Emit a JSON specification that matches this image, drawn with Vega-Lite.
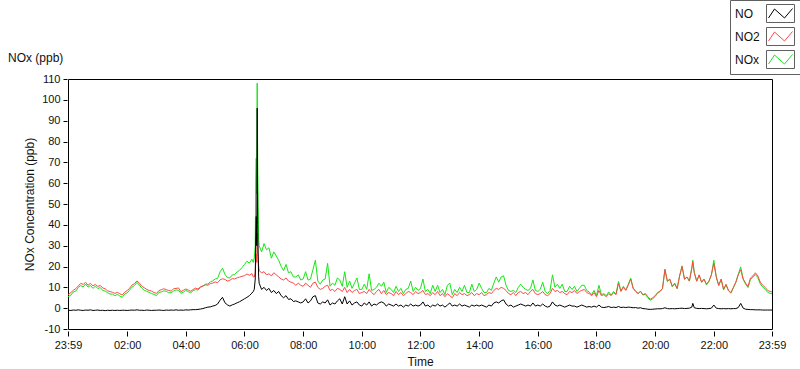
{
"$schema":"https://vega.github.io/schema/vega-lite/v6.json",
"width":704,"height":250,
"autosize":{"type":"none"},
"padding":{"left":68,"top":79,"right":28,"bottom":40},
"background":"white",
"config":{"view":{"stroke":"#000","strokeWidth":1},"font":"Liberation Sans",
 "axis":{"labelFont":"Liberation Sans","labelFontSize":11,"labelColor":"#111","labelOverlap":false,"tickColor":"#000","domain":false,"grid":false,"titleFont":"Liberation Sans","titleFontSize":12,"titleFontWeight":"normal","titleColor":"#111"},
 "axisY":{"labelPadding":3,"tickSize":4,"offset":1,"titlePadding":5,"labelOverlap":false}},
"title":{"text":"NOx (ppb)","anchor":"start","frame":"group","dx":-60,"offset":0,"baseline":"top","dy":65,"fontSize":12,"fontWeight":"normal","color":"#111","font":"Liberation Sans"},
"data":{"values":[
{"t":"2024-01-01T23:59","NO":-1.0,"NO2":6.5,"NOx":5.5},
{"t":"2024-01-02T00:05","NO":-1.1,"NO2":7.5,"NOx":6.3},
{"t":"2024-01-02T00:10","NO":-0.9,"NO2":8.6,"NOx":7.8},
{"t":"2024-01-02T00:15","NO":-1.0,"NO2":9.4,"NOx":8.2},
{"t":"2024-01-02T00:20","NO":-0.8,"NO2":10.6,"NOx":9.9},
{"t":"2024-01-02T00:25","NO":-1.0,"NO2":11.9,"NOx":10.8},
{"t":"2024-01-02T00:30","NO":-1.1,"NO2":11.4,"NOx":10.2},
{"t":"2024-01-02T00:35","NO":-0.9,"NO2":12.4,"NOx":11.6},
{"t":"2024-01-02T00:40","NO":-1.0,"NO2":11.0,"NOx":10.1},
{"t":"2024-01-02T00:45","NO":-0.8,"NO2":11.9,"NOx":10.9},
{"t":"2024-01-02T00:50","NO":-1.1,"NO2":10.7,"NOx":9.5},
{"t":"2024-01-02T00:55","NO":-1.0,"NO2":11.4,"NOx":10.6},
{"t":"2024-01-02T01:00","NO":-0.9,"NO2":10.4,"NOx":9.4},
{"t":"2024-01-02T01:05","NO":-1.1,"NO2":10.9,"NOx":9.9},
{"t":"2024-01-02T01:10","NO":-1.0,"NO2":9.7,"NOx":8.5},
{"t":"2024-01-02T01:15","NO":-1.2,"NO2":9.3,"NOx":8.2},
{"t":"2024-01-02T01:20","NO":-1.0,"NO2":8.3,"NOx":7.4},
{"t":"2024-01-02T01:25","NO":-1.1,"NO2":8.0,"NOx":6.8},
{"t":"2024-01-02T01:30","NO":-1.0,"NO2":7.6,"NOx":6.7},
{"t":"2024-01-02T01:35","NO":-1.1,"NO2":7.1,"NOx":6.0},
{"t":"2024-01-02T01:40","NO":-1.0,"NO2":7.6,"NOx":6.6},
{"t":"2024-01-02T01:45","NO":-1.1,"NO2":6.9,"NOx":5.8},
{"t":"2024-01-02T01:50","NO":-1.0,"NO2":6.3,"NOx":5.2},
{"t":"2024-01-02T01:55","NO":-1.0,"NO2":7.7,"NOx":6.8},
{"t":"2024-01-02T02:00","NO":-1.1,"NO2":8.4,"NOx":7.3},
{"t":"2024-01-02T02:05","NO":-1.0,"NO2":9.6,"NOx":8.7},
{"t":"2024-01-02T02:10","NO":-0.9,"NO2":11.1,"NOx":10.1},
{"t":"2024-01-02T02:15","NO":-1.0,"NO2":11.8,"NOx":10.9},
{"t":"2024-01-02T02:20","NO":-0.8,"NO2":13.1,"NOx":12.4},
{"t":"2024-01-02T02:25","NO":-1.0,"NO2":12.0,"NOx":11.1},
{"t":"2024-01-02T02:30","NO":-1.0,"NO2":10.5,"NOx":9.6},
{"t":"2024-01-02T02:35","NO":-1.1,"NO2":9.8,"NOx":8.6},
{"t":"2024-01-02T02:40","NO":-0.9,"NO2":9.0,"NOx":8.1},
{"t":"2024-01-02T02:45","NO":-1.0,"NO2":8.5,"NOx":7.6},
{"t":"2024-01-02T02:50","NO":-1.1,"NO2":8.2,"NOx":7.0},
{"t":"2024-01-02T02:55","NO":-1.0,"NO2":7.5,"NOx":6.6},
{"t":"2024-01-02T03:00","NO":-1.0,"NO2":7.1,"NOx":6.0},
{"t":"2024-01-02T03:05","NO":-0.9,"NO2":8.4,"NOx":7.6},
{"t":"2024-01-02T03:10","NO":-1.0,"NO2":8.9,"NOx":7.8},
{"t":"2024-01-02T03:15","NO":-1.1,"NO2":9.3,"NOx":8.3},
{"t":"2024-01-02T03:20","NO":-0.9,"NO2":8.9,"NOx":8.1},
{"t":"2024-01-02T03:25","NO":-1.0,"NO2":8.5,"NOx":7.4},
{"t":"2024-01-02T03:30","NO":-0.9,"NO2":8.2,"NOx":7.4},
{"t":"2024-01-02T03:35","NO":-1.0,"NO2":9.3,"NOx":8.2},
{"t":"2024-01-02T03:40","NO":-0.8,"NO2":9.5,"NOx":8.8},
{"t":"2024-01-02T03:45","NO":-1.0,"NO2":9.7,"NOx":8.6},
{"t":"2024-01-02T03:50","NO":-0.9,"NO2":7.9,"NOx":7.1},
{"t":"2024-01-02T03:55","NO":-1.0,"NO2":8.6,"NOx":7.7},
{"t":"2024-01-02T04:00","NO":-0.8,"NO2":9.2,"NOx":8.5},
{"t":"2024-01-02T04:05","NO":-0.9,"NO2":8.7,"NOx":7.9},
{"t":"2024-01-02T04:10","NO":-0.8,"NO2":8.1,"NOx":7.4},
{"t":"2024-01-02T04:15","NO":-0.7,"NO2":9.0,"NOx":8.4},
{"t":"2024-01-02T04:20","NO":-0.7,"NO2":9.6,"NOx":8.9},
{"t":"2024-01-02T04:25","NO":-0.6,"NO2":9.2,"NOx":8.7},
{"t":"2024-01-02T04:30","NO":-0.4,"NO2":10.3,"NOx":9.9},
{"t":"2024-01-02T04:35","NO":-0.2,"NO2":10.6,"NOx":10.6},
{"t":"2024-01-02T04:40","NO":0.2,"NO2":11.2,"NOx":11.5},
{"t":"2024-01-02T04:45","NO":0.5,"NO2":11.0,"NOx":11.6},
{"t":"2024-01-02T04:50","NO":0.6,"NO2":11.8,"NOx":12.6},
{"t":"2024-01-02T04:55","NO":1.0,"NO2":12.0,"NOx":13.1},
{"t":"2024-01-02T05:00","NO":1.3,"NO2":12.6,"NOx":14.0},
{"t":"2024-01-02T05:05","NO":2.0,"NO2":12.2,"NOx":14.3},
{"t":"2024-01-02T05:10","NO":3.8,"NO2":13.6,"NOx":17.4},
{"t":"2024-01-02T05:15","NO":5.2,"NO2":14.1,"NOx":19.2},
{"t":"2024-01-02T05:20","NO":2.6,"NO2":13.8,"NOx":16.3},
{"t":"2024-01-02T05:25","NO":1.6,"NO2":13.0,"NOx":14.7},
{"t":"2024-01-02T05:30","NO":1.0,"NO2":13.4,"NOx":14.5},
{"t":"2024-01-02T05:35","NO":1.6,"NO2":14.2,"NOx":15.9},
{"t":"2024-01-02T05:40","NO":2.0,"NO2":14.0,"NOx":16.2},
{"t":"2024-01-02T05:45","NO":2.6,"NO2":14.6,"NOx":17.4},
{"t":"2024-01-02T05:50","NO":3.1,"NO2":14.9,"NOx":18.2},
{"t":"2024-01-02T05:55","NO":3.8,"NO2":15.3,"NOx":19.5},
{"t":"2024-01-02T06:00","NO":4.5,"NO2":15.6,"NOx":21.0},
{"t":"2024-01-02T06:05","NO":5.2,"NO2":16.4,"NOx":22.5},
{"t":"2024-01-02T06:10","NO":6.0,"NO2":15.8,"NOx":21.6},
{"t":"2024-01-02T06:15","NO":7.2,"NO2":16.6,"NOx":23.5},
{"t":"2024-01-02T06:18","NO":8,"NO2":15,"NOx":22},
{"t":"2024-01-02T06:20","NO":9,"NO2":15,"NOx":24},
{"t":"2024-01-02T06:22","NO":14,"NO2":17,"NOx":30},
{"t":"2024-01-02T06:23","NO":35,"NO2":22,"NOx":62},
{"t":"2024-01-02T06:24","NO":44,"NO2":26,"NOx":72},
{"t":"2024-01-02T06:25","NO":30,"NO2":22,"NOx":55},
{"t":"2024-01-02T06:26","NO":96,"NO2":36,"NOx":108},
{"t":"2024-01-02T06:27","NO":40,"NO2":28,"NOx":70},
{"t":"2024-01-02T06:28","NO":25,"NO2":24,"NOx":50},
{"t":"2024-01-02T06:29","NO":15,"NO2":20,"NOx":33},
{"t":"2024-01-02T06:30","NO":12,"NO2":18,"NOx":30},
{"t":"2024-01-02T06:35","NO":9,"NO2":17,"NOx":27},
{"t":"2024-01-02T06:40","NO":10,"NO2":17.5,"NOx":31},
{"t":"2024-01-02T06:45","NO":8.5,"NO2":16,"NOx":28},
{"t":"2024-01-02T06:50","NO":9.5,"NO2":16.5,"NOx":29},
{"t":"2024-01-02T06:55","NO":7.5,"NO2":15.5,"NOx":24},
{"t":"2024-01-02T07:00","NO":8.5,"NO2":17,"NOx":27},
{"t":"2024-01-02T07:05","NO":7,"NO2":16,"NOx":25},
{"t":"2024-01-02T07:10","NO":8,"NO2":15,"NOx":23},
{"t":"2024-01-02T07:15","NO":6,"NO2":14,"NOx":20},
{"t":"2024-01-02T07:20","NO":5,"NO2":13.5,"NOx":18},
{"t":"2024-01-02T07:25","NO":6,"NO2":14.5,"NOx":21},
{"t":"2024-01-02T07:30","NO":4.2,"NO2":13,"NOx":17},
{"t":"2024-01-02T07:35","NO":4.5,"NO2":12.5,"NOx":17.5},
{"t":"2024-01-02T07:40","NO":3.2,"NO2":12,"NOx":15},
{"t":"2024-01-02T07:45","NO":3.5,"NO2":11,"NOx":15},
{"t":"2024-01-02T07:50","NO":3.0,"NO2":12,"NOx":16},
{"t":"2024-01-02T07:55","NO":2.5,"NO2":11,"NOx":13.5},
{"t":"2024-01-02T08:00","NO":3.0,"NO2":10.5,"NOx":14},
{"t":"2024-01-02T08:05","NO":4.5,"NO2":12,"NOx":17.5},
{"t":"2024-01-02T08:10","NO":2.5,"NO2":11,"NOx":13.5},
{"t":"2024-01-02T08:15","NO":3.5,"NO2":10,"NOx":14},
{"t":"2024-01-02T08:20","NO":5.5,"NO2":12,"NOx":18.5},
{"t":"2024-01-02T08:25","NO":6,"NO2":12.5,"NOx":23},
{"t":"2024-01-02T08:30","NO":2.5,"NO2":10,"NOx":13},
{"t":"2024-01-02T08:35","NO":2,"NO2":9,"NOx":11.5},
{"t":"2024-01-02T08:40","NO":3,"NO2":9.5,"NOx":13.5},
{"t":"2024-01-02T08:45","NO":2.5,"NO2":10.5,"NOx":14},
{"t":"2024-01-02T08:50","NO":4,"NO2":11,"NOx":21.5},
{"t":"2024-01-02T08:55","NO":1.5,"NO2":8.5,"NOx":10.5},
{"t":"2024-01-02T09:00","NO":2.5,"NO2":9,"NOx":12},
{"t":"2024-01-02T09:05","NO":2,"NO2":8,"NOx":11},
{"t":"2024-01-02T09:10","NO":3.5,"NO2":9.5,"NOx":14.5},
{"t":"2024-01-02T09:15","NO":4.5,"NO2":9,"NOx":13.5},
{"t":"2024-01-02T09:20","NO":2,"NO2":8,"NOx":10.5},
{"t":"2024-01-02T09:25","NO":5.5,"NO2":10,"NOx":17.5},
{"t":"2024-01-02T09:30","NO":2,"NO2":7.5,"NOx":10},
{"t":"2024-01-02T09:35","NO":3.5,"NO2":9,"NOx":13},
{"t":"2024-01-02T09:40","NO":1.5,"NO2":7.5,"NOx":9.5},
{"t":"2024-01-02T09:45","NO":2.5,"NO2":8.5,"NOx":12},
{"t":"2024-01-02T09:50","NO":3,"NO2":9,"NOx":14.5},
{"t":"2024-01-02T09:55","NO":1.5,"NO2":7,"NOx":9},
{"t":"2024-01-02T10:00","NO":1,"NO2":7.5,"NOx":9},
{"t":"2024-01-02T10:05","NO":2.5,"NO2":8,"NOx":11.5},
{"t":"2024-01-02T10:10","NO":1.5,"NO2":7,"NOx":9},
{"t":"2024-01-02T10:15","NO":3,"NO2":9,"NOx":16.5},
{"t":"2024-01-02T10:20","NO":1,"NO2":7.5,"NOx":8.5},
{"t":"2024-01-02T10:25","NO":2,"NO2":6.5,"NOx":9},
{"t":"2024-01-02T10:30","NO":1.5,"NO2":8,"NOx":10},
{"t":"2024-01-02T10:35","NO":2.5,"NO2":9,"NOx":12},
{"t":"2024-01-02T10:40","NO":3,"NO2":7,"NOx":10.5},
{"t":"2024-01-02T10:45","NO":2.5,"NO2":8.5,"NOx":12.5},
{"t":"2024-01-02T10:50","NO":1,"NO2":6.5,"NOx":7.5},
{"t":"2024-01-02T10:55","NO":2,"NO2":7.5,"NOx":10},
{"t":"2024-01-02T11:00","NO":1.5,"NO2":7,"NOx":9},
{"t":"2024-01-02T11:05","NO":1,"NO2":6,"NOx":7.5},
{"t":"2024-01-02T11:10","NO":2,"NO2":8,"NOx":10.5},
{"t":"2024-01-02T11:15","NO":1,"NO2":6.5,"NOx":8},
{"t":"2024-01-02T11:20","NO":1.5,"NO2":7.5,"NOx":9.5},
{"t":"2024-01-02T11:25","NO":0.5,"NO2":6,"NOx":7},
{"t":"2024-01-02T11:30","NO":1.5,"NO2":7,"NOx":9},
{"t":"2024-01-02T11:35","NO":1,"NO2":8,"NOx":9.5},
{"t":"2024-01-02T11:40","NO":2,"NO2":7.5,"NOx":13},
{"t":"2024-01-02T11:45","NO":1,"NO2":6.5,"NOx":8},
{"t":"2024-01-02T11:50","NO":1.5,"NO2":8,"NOx":10},
{"t":"2024-01-02T11:55","NO":1,"NO2":7,"NOx":8.5},
{"t":"2024-01-02T12:00","NO":1.5,"NO2":7.5,"NOx":9.5},
{"t":"2024-01-02T12:05","NO":3,"NO2":8.5,"NOx":14},
{"t":"2024-01-02T12:10","NO":1,"NO2":6.5,"NOx":8},
{"t":"2024-01-02T12:15","NO":1.5,"NO2":7,"NOx":9},
{"t":"2024-01-02T12:20","NO":0.5,"NO2":6,"NOx":7},
{"t":"2024-01-02T12:25","NO":1.5,"NO2":7.5,"NOx":11},
{"t":"2024-01-02T12:30","NO":1,"NO2":6.5,"NOx":8},
{"t":"2024-01-02T12:35","NO":2,"NO2":8,"NOx":11},
{"t":"2024-01-02T12:40","NO":1,"NO2":6,"NOx":7.5},
{"t":"2024-01-02T12:45","NO":1.5,"NO2":7,"NOx":9},
{"t":"2024-01-02T12:50","NO":0.5,"NO2":5.5,"NOx":6.5},
{"t":"2024-01-02T12:55","NO":1.5,"NO2":7,"NOx":11},
{"t":"2024-01-02T13:00","NO":2.5,"NO2":6,"NOx":12},
{"t":"2024-01-02T13:05","NO":1,"NO2":5,"NOx":6.5},
{"t":"2024-01-02T13:10","NO":1.5,"NO2":7,"NOx":9},
{"t":"2024-01-02T13:15","NO":1,"NO2":6,"NOx":7.5},
{"t":"2024-01-02T13:20","NO":2,"NO2":7.5,"NOx":10},
{"t":"2024-01-02T13:25","NO":1,"NO2":6.5,"NOx":8},
{"t":"2024-01-02T13:30","NO":1.5,"NO2":7,"NOx":11},
{"t":"2024-01-02T13:35","NO":1,"NO2":6,"NOx":7.5},
{"t":"2024-01-02T13:40","NO":0.5,"NO2":6.5,"NOx":7.5},
{"t":"2024-01-02T13:45","NO":1.5,"NO2":7.5,"NOx":11.5},
{"t":"2024-01-02T13:50","NO":1,"NO2":6,"NOx":8},
{"t":"2024-01-02T13:55","NO":1.5,"NO2":7,"NOx":9},
{"t":"2024-01-02T14:00","NO":1,"NO2":6.5,"NOx":12},
{"t":"2024-01-02T14:05","NO":1.5,"NO2":7.5,"NOx":9.5},
{"t":"2024-01-02T14:10","NO":1,"NO2":6,"NOx":7.5},
{"t":"2024-01-02T14:15","NO":0.5,"NO2":6.5,"NOx":7.5},
{"t":"2024-01-02T14:20","NO":1.5,"NO2":7.5,"NOx":9.5},
{"t":"2024-01-02T14:25","NO":1,"NO2":7,"NOx":8.5},
{"t":"2024-01-02T14:30","NO":2.5,"NO2":8.5,"NOx":12},
{"t":"2024-01-02T14:35","NO":3,"NO2":9.5,"NOx":15},
{"t":"2024-01-02T14:40","NO":2.5,"NO2":9,"NOx":12.5},
{"t":"2024-01-02T14:45","NO":3.5,"NO2":10,"NOx":15},
{"t":"2024-01-02T14:50","NO":4,"NO2":9.5,"NOx":15.5},
{"t":"2024-01-02T14:55","NO":2,"NO2":8.5,"NOx":11},
{"t":"2024-01-02T15:00","NO":1,"NO2":7,"NOx":8.5},
{"t":"2024-01-02T15:05","NO":1.5,"NO2":6.5,"NOx":8},
{"t":"2024-01-02T15:10","NO":0.5,"NO2":7.5,"NOx":8.5},
{"t":"2024-01-02T15:15","NO":1,"NO2":6,"NOx":7.5},
{"t":"2024-01-02T15:20","NO":1.5,"NO2":7.5,"NOx":10},
{"t":"2024-01-02T15:25","NO":2,"NO2":8,"NOx":11.5},
{"t":"2024-01-02T15:30","NO":1.5,"NO2":7,"NOx":10},
{"t":"2024-01-02T15:35","NO":1,"NO2":7.5,"NOx":9},
{"t":"2024-01-02T15:40","NO":1.5,"NO2":6.5,"NOx":8.5},
{"t":"2024-01-02T15:45","NO":1,"NO2":8,"NOx":9.5},
{"t":"2024-01-02T15:50","NO":2.5,"NO2":9,"NOx":13.5},
{"t":"2024-01-02T15:55","NO":1,"NO2":7,"NOx":8.5},
{"t":"2024-01-02T16:00","NO":1.5,"NO2":6.5,"NOx":8},
{"t":"2024-01-02T16:05","NO":1,"NO2":7,"NOx":9},
{"t":"2024-01-02T16:10","NO":2,"NO2":8,"NOx":12.5},
{"t":"2024-01-02T16:15","NO":1,"NO2":6.5,"NOx":8},
{"t":"2024-01-02T16:20","NO":0.5,"NO2":6,"NOx":7},
{"t":"2024-01-02T16:25","NO":1,"NO2":7,"NOx":8.5},
{"t":"2024-01-02T16:30","NO":3,"NO2":9.5,"NOx":16},
{"t":"2024-01-02T16:35","NO":1.5,"NO2":8,"NOx":10},
{"t":"2024-01-02T16:40","NO":1,"NO2":8.5,"NOx":11.5},
{"t":"2024-01-02T16:45","NO":1.5,"NO2":7.5,"NOx":9.5},
{"t":"2024-01-02T16:50","NO":1,"NO2":8,"NOx":11.5},
{"t":"2024-01-02T16:55","NO":0.5,"NO2":7,"NOx":8},
{"t":"2024-01-02T17:00","NO":1,"NO2":6.5,"NOx":8},
{"t":"2024-01-02T17:05","NO":1.5,"NO2":8,"NOx":10.5},
{"t":"2024-01-02T17:10","NO":1,"NO2":7.5,"NOx":9},
{"t":"2024-01-02T17:15","NO":1,"NO2":8.5,"NOx":10.5},
{"t":"2024-01-02T17:20","NO":0.5,"NO2":7,"NOx":8},
{"t":"2024-01-02T17:25","NO":1,"NO2":8,"NOx":9.5},
{"t":"2024-01-02T17:30","NO":1.5,"NO2":8.5,"NOx":11},
{"t":"2024-01-02T17:35","NO":1,"NO2":9,"NOx":11},
{"t":"2024-01-02T17:40","NO":0.5,"NO2":7.5,"NOx":8.5},
{"t":"2024-01-02T17:45","NO":0.8,"NO2":7,"NOx":7.8},
{"t":"2024-01-02T17:50","NO":0.5,"NO2":6,"NOx":6.5},
{"t":"2024-01-02T17:55","NO":1,"NO2":7.5,"NOx":8.5},
{"t":"2024-01-02T18:00","NO":0.5,"NO2":5.5,"NOx":6},
{"t":"2024-01-02T18:05","NO":1.5,"NO2":8.5,"NOx":11},
{"t":"2024-01-02T18:10","NO":0.5,"NO2":6,"NOx":6.5},
{"t":"2024-01-02T18:15","NO":0.3,"NO2":6.5,"NOx":7},
{"t":"2024-01-02T18:20","NO":0.5,"NO2":5.5,"NOx":6},
{"t":"2024-01-02T18:25","NO":0.8,"NO2":7,"NOx":7.8},
{"t":"2024-01-02T18:30","NO":0.3,"NO2":6,"NOx":6.3},
{"t":"2024-01-02T18:35","NO":0.5,"NO2":7.5,"NOx":8},
{"t":"2024-01-02T18:40","NO":0.3,"NO2":6.5,"NOx":6.8},
{"t":"2024-01-02T18:45","NO":0.8,"NO2":12,"NOx":12.8},
{"t":"2024-01-02T18:50","NO":0.3,"NO2":8,"NOx":8.3},
{"t":"2024-01-02T18:55","NO":0.5,"NO2":10,"NOx":10.5},
{"t":"2024-01-02T19:00","NO":0.3,"NO2":8.5,"NOx":8.8},
{"t":"2024-01-02T19:05","NO":0.5,"NO2":11,"NOx":11.5},
{"t":"2024-01-02T19:10","NO":0.4,"NO2":14,"NOx":14.4},
{"t":"2024-01-02T19:15","NO":0.2,"NO2":9.5,"NOx":9.7},
{"t":"2024-01-02T19:20","NO":0.3,"NO2":8,"NOx":8.3},
{"t":"2024-01-02T19:25","NO":0,"NO2":7,"NOx":7},
{"t":"2024-01-02T19:30","NO":0.2,"NO2":8,"NOx":8.2},
{"t":"2024-01-02T19:35","NO":-0.2,"NO2":6.5,"NOx":6.3},
{"t":"2024-01-02T19:40","NO":-0.3,"NO2":7,"NOx":6.7},
{"t":"2024-01-02T19:45","NO":-0.5,"NO2":5.5,"NOx":5},
{"t":"2024-01-02T19:50","NO":-0.6,"NO2":4.3,"NOx":3.8},
{"t":"2024-01-02T19:55","NO":-0.5,"NO2":5,"NOx":4.5},
{"t":"2024-01-02T20:00","NO":-0.4,"NO2":6,"NOx":5.6},
{"t":"2024-01-02T20:05","NO":-0.3,"NO2":7.5,"NOx":7.2},
{"t":"2024-01-02T20:10","NO":-0.3,"NO2":8.2,"NOx":7.9},
{"t":"2024-01-02T20:15","NO":-0.2,"NO2":9.5,"NOx":9.3},
{"t":"2024-01-02T20:20","NO":0.2,"NO2":18.5,"NOx":18.7},
{"t":"2024-01-02T20:25","NO":-0.2,"NO2":13,"NOx":12.8},
{"t":"2024-01-02T20:30","NO":-0.3,"NO2":14,"NOx":13.7},
{"t":"2024-01-02T20:35","NO":-0.2,"NO2":10.5,"NOx":10.3},
{"t":"2024-01-02T20:40","NO":-0.3,"NO2":12,"NOx":11.7},
{"t":"2024-01-02T20:45","NO":-0.2,"NO2":9.5,"NOx":9.3},
{"t":"2024-01-02T20:50","NO":-0.1,"NO2":15.5,"NOx":15.4},
{"t":"2024-01-02T20:55","NO":0,"NO2":20,"NOx":20.3},
{"t":"2024-01-02T21:00","NO":-0.2,"NO2":14,"NOx":13.8},
{"t":"2024-01-02T21:05","NO":-0.1,"NO2":15,"NOx":14.9},
{"t":"2024-01-02T21:10","NO":0,"NO2":13,"NOx":13},
{"t":"2024-01-02T21:15","NO":0.5,"NO2":19,"NOx":19.5},
{"t":"2024-01-02T21:17","NO":2.3,"NO2":22.3,"NOx":23},
{"t":"2024-01-02T21:20","NO":0.2,"NO2":17,"NOx":17.2},
{"t":"2024-01-02T21:25","NO":-0.1,"NO2":13,"NOx":12.9},
{"t":"2024-01-02T21:30","NO":-0.2,"NO2":16,"NOx":15.8},
{"t":"2024-01-02T21:35","NO":-0.1,"NO2":12.5,"NOx":12.4},
{"t":"2024-01-02T21:40","NO":-0.2,"NO2":14,"NOx":13.8},
{"t":"2024-01-02T21:45","NO":-0.3,"NO2":11.5,"NOx":11.2},
{"t":"2024-01-02T21:50","NO":-0.2,"NO2":13,"NOx":12.8},
{"t":"2024-01-02T21:55","NO":0,"NO2":16,"NOx":16},
{"t":"2024-01-02T22:00","NO":1.5,"NO2":21.5,"NOx":23},
{"t":"2024-01-02T22:05","NO":0,"NO2":15,"NOx":15},
{"t":"2024-01-02T22:10","NO":-0.2,"NO2":11,"NOx":10.8},
{"t":"2024-01-02T22:15","NO":-0.3,"NO2":14,"NOx":13.7},
{"t":"2024-01-02T22:20","NO":-0.2,"NO2":9,"NOx":8.8},
{"t":"2024-01-02T22:25","NO":-0.3,"NO2":11.5,"NOx":11.2},
{"t":"2024-01-02T22:30","NO":-0.2,"NO2":8.5,"NOx":8.3},
{"t":"2024-01-02T22:35","NO":-0.3,"NO2":7.5,"NOx":7.2},
{"t":"2024-01-02T22:40","NO":-0.2,"NO2":10,"NOx":9.8},
{"t":"2024-01-02T22:45","NO":-0.2,"NO2":12.5,"NOx":12.3},
{"t":"2024-01-02T22:50","NO":0.3,"NO2":16,"NOx":16.3},
{"t":"2024-01-02T22:55","NO":2.3,"NO2":18.5,"NOx":19.8},
{"t":"2024-01-02T23:00","NO":0,"NO2":14,"NOx":14},
{"t":"2024-01-02T23:05","NO":-0.5,"NO2":12,"NOx":11.5},
{"t":"2024-01-02T23:10","NO":-0.6,"NO2":10.5,"NOx":9.9},
{"t":"2024-01-02T23:15","NO":-0.7,"NO2":14.5,"NOx":13.8},
{"t":"2024-01-02T23:20","NO":-0.7,"NO2":15.5,"NOx":14.8},
{"t":"2024-01-02T23:25","NO":-0.8,"NO2":17,"NOx":16.2},
{"t":"2024-01-02T23:30","NO":-0.8,"NO2":15.5,"NOx":14.7},
{"t":"2024-01-02T23:35","NO":-0.8,"NO2":12.5,"NOx":11.7},
{"t":"2024-01-02T23:40","NO":-0.9,"NO2":11,"NOx":10.1},
{"t":"2024-01-02T23:45","NO":-0.9,"NO2":10,"NOx":9.1},
{"t":"2024-01-02T23:50","NO":-0.9,"NO2":8.5,"NOx":7.6},
{"t":"2024-01-02T23:55","NO":-0.9,"NO2":8,"NOx":7.1},
{"t":"2024-01-02T23:59","NO":-0.9,"NO2":7.8,"NOx":6.9}
]},
"layer":[
{"mark":{"type":"line","strokeWidth":1},
 "encoding":{
  "x":{"field":"t","type":"temporal","title":"Time",
   "scale":{"domain":[{"year":2024,"month":1,"date":1,"hours":23,"minutes":59},{"year":2024,"month":1,"date":2,"hours":23,"minutes":59}]},
   "axis":{"values":[
{"year":2024,"month":1,"date":1,"hours":23,"minutes":59},
{"year":2024,"month":1,"date":2,"hours":0,"minutes":15},{"year":2024,"month":1,"date":2,"hours":0,"minutes":30},{"year":2024,"month":1,"date":2,"hours":0,"minutes":45},
{"year":2024,"month":1,"date":2,"hours":1,"minutes":0},{"year":2024,"month":1,"date":2,"hours":1,"minutes":15},{"year":2024,"month":1,"date":2,"hours":1,"minutes":30},{"year":2024,"month":1,"date":2,"hours":1,"minutes":45},
{"year":2024,"month":1,"date":2,"hours":2,"minutes":0},{"year":2024,"month":1,"date":2,"hours":2,"minutes":15},{"year":2024,"month":1,"date":2,"hours":2,"minutes":30},{"year":2024,"month":1,"date":2,"hours":2,"minutes":45},
{"year":2024,"month":1,"date":2,"hours":3,"minutes":0},{"year":2024,"month":1,"date":2,"hours":3,"minutes":15},{"year":2024,"month":1,"date":2,"hours":3,"minutes":30},{"year":2024,"month":1,"date":2,"hours":3,"minutes":45},
{"year":2024,"month":1,"date":2,"hours":4,"minutes":0},{"year":2024,"month":1,"date":2,"hours":4,"minutes":15},{"year":2024,"month":1,"date":2,"hours":4,"minutes":30},{"year":2024,"month":1,"date":2,"hours":4,"minutes":45},
{"year":2024,"month":1,"date":2,"hours":5,"minutes":0},{"year":2024,"month":1,"date":2,"hours":5,"minutes":15},{"year":2024,"month":1,"date":2,"hours":5,"minutes":30},{"year":2024,"month":1,"date":2,"hours":5,"minutes":45},
{"year":2024,"month":1,"date":2,"hours":6,"minutes":0},{"year":2024,"month":1,"date":2,"hours":6,"minutes":15},{"year":2024,"month":1,"date":2,"hours":6,"minutes":30},{"year":2024,"month":1,"date":2,"hours":6,"minutes":45},
{"year":2024,"month":1,"date":2,"hours":7,"minutes":0},{"year":2024,"month":1,"date":2,"hours":7,"minutes":15},{"year":2024,"month":1,"date":2,"hours":7,"minutes":30},{"year":2024,"month":1,"date":2,"hours":7,"minutes":45},
{"year":2024,"month":1,"date":2,"hours":8,"minutes":0},{"year":2024,"month":1,"date":2,"hours":8,"minutes":15},{"year":2024,"month":1,"date":2,"hours":8,"minutes":30},{"year":2024,"month":1,"date":2,"hours":8,"minutes":45},
{"year":2024,"month":1,"date":2,"hours":9,"minutes":0},{"year":2024,"month":1,"date":2,"hours":9,"minutes":15},{"year":2024,"month":1,"date":2,"hours":9,"minutes":30},{"year":2024,"month":1,"date":2,"hours":9,"minutes":45},
{"year":2024,"month":1,"date":2,"hours":10,"minutes":0},{"year":2024,"month":1,"date":2,"hours":10,"minutes":15},{"year":2024,"month":1,"date":2,"hours":10,"minutes":30},{"year":2024,"month":1,"date":2,"hours":10,"minutes":45},
{"year":2024,"month":1,"date":2,"hours":11,"minutes":0},{"year":2024,"month":1,"date":2,"hours":11,"minutes":15},{"year":2024,"month":1,"date":2,"hours":11,"minutes":30},{"year":2024,"month":1,"date":2,"hours":11,"minutes":45},
{"year":2024,"month":1,"date":2,"hours":12,"minutes":0},{"year":2024,"month":1,"date":2,"hours":12,"minutes":15},{"year":2024,"month":1,"date":2,"hours":12,"minutes":30},{"year":2024,"month":1,"date":2,"hours":12,"minutes":45},
{"year":2024,"month":1,"date":2,"hours":13,"minutes":0},{"year":2024,"month":1,"date":2,"hours":13,"minutes":15},{"year":2024,"month":1,"date":2,"hours":13,"minutes":30},{"year":2024,"month":1,"date":2,"hours":13,"minutes":45},
{"year":2024,"month":1,"date":2,"hours":14,"minutes":0},{"year":2024,"month":1,"date":2,"hours":14,"minutes":15},{"year":2024,"month":1,"date":2,"hours":14,"minutes":30},{"year":2024,"month":1,"date":2,"hours":14,"minutes":45},
{"year":2024,"month":1,"date":2,"hours":15,"minutes":0},{"year":2024,"month":1,"date":2,"hours":15,"minutes":15},{"year":2024,"month":1,"date":2,"hours":15,"minutes":30},{"year":2024,"month":1,"date":2,"hours":15,"minutes":45},
{"year":2024,"month":1,"date":2,"hours":16,"minutes":0},{"year":2024,"month":1,"date":2,"hours":16,"minutes":15},{"year":2024,"month":1,"date":2,"hours":16,"minutes":30},{"year":2024,"month":1,"date":2,"hours":16,"minutes":45},
{"year":2024,"month":1,"date":2,"hours":17,"minutes":0},{"year":2024,"month":1,"date":2,"hours":17,"minutes":15},{"year":2024,"month":1,"date":2,"hours":17,"minutes":30},{"year":2024,"month":1,"date":2,"hours":17,"minutes":45},
{"year":2024,"month":1,"date":2,"hours":18,"minutes":0},{"year":2024,"month":1,"date":2,"hours":18,"minutes":15},{"year":2024,"month":1,"date":2,"hours":18,"minutes":30},{"year":2024,"month":1,"date":2,"hours":18,"minutes":45},
{"year":2024,"month":1,"date":2,"hours":19,"minutes":0},{"year":2024,"month":1,"date":2,"hours":19,"minutes":15},{"year":2024,"month":1,"date":2,"hours":19,"minutes":30},{"year":2024,"month":1,"date":2,"hours":19,"minutes":45},
{"year":2024,"month":1,"date":2,"hours":20,"minutes":0},{"year":2024,"month":1,"date":2,"hours":20,"minutes":15},{"year":2024,"month":1,"date":2,"hours":20,"minutes":30},{"year":2024,"month":1,"date":2,"hours":20,"minutes":45},
{"year":2024,"month":1,"date":2,"hours":21,"minutes":0},{"year":2024,"month":1,"date":2,"hours":21,"minutes":15},{"year":2024,"month":1,"date":2,"hours":21,"minutes":30},{"year":2024,"month":1,"date":2,"hours":21,"minutes":45},
{"year":2024,"month":1,"date":2,"hours":22,"minutes":0},{"year":2024,"month":1,"date":2,"hours":22,"minutes":15},{"year":2024,"month":1,"date":2,"hours":22,"minutes":30},{"year":2024,"month":1,"date":2,"hours":22,"minutes":45},
{"year":2024,"month":1,"date":2,"hours":23,"minutes":0},{"year":2024,"month":1,"date":2,"hours":23,"minutes":15},{"year":2024,"month":1,"date":2,"hours":23,"minutes":30},{"year":2024,"month":1,"date":2,"hours":23,"minutes":45},
{"year":2024,"month":1,"date":2,"hours":23,"minutes":59}],
    "format":"%H:%M",
    "labelExpr":"(minutes(datum.value)==59 || (minutes(datum.value)==0 && hours(datum.value)%2==0)) ? datum.label : ''",
    "tickSize":{"condition":{"test":"minutes(datum.value)==59 || (minutes(datum.value)==0 && hours(datum.value)%2==0)","value":5},"value":3},
    "labelFlush":false,"labelPadding":3,"offset":2,"titlePadding":6}},
  "y":{"field":"NOx","type":"quantitative","title":"NOx Concentration (ppb)",
   "scale":{"domain":[-10,110],"nice":false,"zero":false},
   "axis":{"values":[-10,0,10,20,30,40,50,60,70,80,90,100,110],"labelOverlap":false,"labelBound":false,"labelExpr":"replace(datum.label,'\u2212','-')"}},
  "color":{"datum":"NOx","type":"nominal",
   "scale":{"domain":["NO","NO2","NOx"],"range":["#000000","#ff4848","#14e614"]},
   "legend":{"orient":"none","legendX":662,"legendY":-79,"title":null,
    "symbolType":"M-1.4,-0.9M1.4,0.9M-1.2,0.45L-0.6,-0.45L0.4,0.45L1.2,-0.5","symbolSize":400,"symbolStrokeWidth":1,
    "labelFont":"Liberation Sans","labelFontSize":12,"labelColor":"#111","strokeColor":"#606060","padding":3,"rowPadding":0,"symbolOffset":37,"labelOffset":-56,"labelLimit":40}}}},
{"mark":{"type":"line","strokeWidth":1},
 "encoding":{
  "x":{"field":"t","type":"temporal","title":"Time"},
  "y":{"field":"NO2","type":"quantitative","title":"NOx Concentration (ppb)","axis":{"values":[-10,0,10,20,30,40,50,60,70,80,90,100,110],"labelOverlap":false}},
  "color":{"datum":"NO2","type":"nominal"}}},
{"mark":{"type":"line","strokeWidth":1},
 "encoding":{
  "x":{"field":"t","type":"temporal","title":"Time"},
  "y":{"field":"NO","type":"quantitative","title":"NOx Concentration (ppb)","axis":{"values":[-10,0,10,20,30,40,50,60,70,80,90,100,110],"labelOverlap":false}},
  "color":{"datum":"NO","type":"nominal"}}},
{"mark":{"type":"point","opacity":0,"size":1,"color":"#606060"},
 "encoding":{
  "x":{"field":"t","type":"temporal","title":"Time"},
  "y":{"field":"NO","type":"quantitative","title":"NOx Concentration (ppb)","axis":{"values":[-10,0,10,20,30,40,50,60,70,80,90,100,110],"labelOverlap":false}},
  "shape":{"datum":"b1","type":"nominal",
   "scale":{"domain":["b1","b2","b3"],"range":["M-1.4,-0.9L1.4,-0.9L1.4,0.9L-1.4,0.9Z","M-1.4,-0.9L1.4,-0.9L1.4,0.9L-1.4,0.9Z","M-1.4,-0.9L1.4,-0.9L1.4,0.9L-1.4,0.9Z"]},
   "legend":{"orient":"none","legendX":662,"legendY":-79,"title":null,"symbolSize":400,"symbolStrokeWidth":1,"symbolOpacity":1,"symbolStrokeColor":"#606060",
    "labelFont":"Liberation Sans","labelFontSize":12,"labelColor":"#ffffff","labelOpacity":0,"labelExpr":"''","padding":3,"rowPadding":0,"symbolOffset":37,"labelOffset":-56,"labelLimit":40}}}}
]
}
